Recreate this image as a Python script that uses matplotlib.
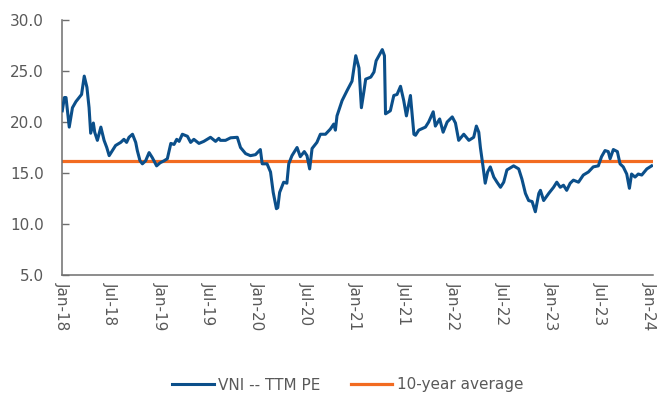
import numpy as np
import matplotlib.pyplot as plt
import matplotlib.dates as mdates
import pandas as pd

# VNI trailing PE
dates = [
    "2018-01-02", "2018-01-10", "2018-01-16", "2018-01-28", "2018-02-09", "2018-02-22",
    "2018-03-06", "2018-03-15", "2018-03-25", "2018-04-04", "2018-04-12", "2018-04-18",
    "2018-04-28", "2018-05-03", "2018-05-13", "2018-05-26", "2018-06-07", "2018-06-17",
    "2018-06-26", "2018-07-08", "2018-07-20", "2018-08-08", "2018-08-20", "2018-08-30",
    "2018-09-08", "2018-09-21", "2018-10-03", "2018-10-09", "2018-10-19", "2018-10-28",
    "2018-11-09", "2018-11-22", "2018-12-04", "2018-12-20", "2019-01-02", "2019-01-17",
    "2019-01-29", "2019-02-11", "2019-02-23", "2019-03-05", "2019-03-14", "2019-03-26",
    "2019-04-14", "2019-04-26", "2019-05-08", "2019-05-27", "2019-06-14", "2019-07-09",
    "2019-07-28", "2019-08-09", "2019-08-15", "2019-09-03", "2019-09-22", "2019-10-17",
    "2019-10-29", "2019-11-17", "2019-12-05", "2019-12-24", "2020-01-11", "2020-01-18",
    "2020-02-05", "2020-02-18", "2020-02-28", "2020-03-11", "2020-03-16", "2020-03-23",
    "2020-04-07", "2020-04-19", "2020-04-26", "2020-05-08", "2020-05-27", "2020-06-08",
    "2020-06-23", "2020-07-03", "2020-07-13", "2020-07-22", "2020-08-09", "2020-08-22",
    "2020-09-10", "2020-09-28", "2020-10-11", "2020-10-17", "2020-10-23", "2020-11-11",
    "2020-11-30", "2020-12-18", "2021-01-01", "2021-01-13", "2021-01-22", "2021-02-01",
    "2021-02-07", "2021-02-26", "2021-03-10", "2021-03-18", "2021-04-10", "2021-04-18",
    "2021-04-22", "2021-05-10", "2021-05-23", "2021-06-04", "2021-06-17", "2021-06-29",
    "2021-07-09", "2021-07-24", "2021-08-06", "2021-08-12", "2021-08-24", "2021-09-18",
    "2021-09-30", "2021-10-17", "2021-10-25", "2021-11-10", "2021-11-23", "2021-12-08",
    "2021-12-27", "2022-01-08", "2022-01-20", "2022-02-08", "2022-02-27", "2022-03-17",
    "2022-03-27", "2022-04-05", "2022-04-11", "2022-04-21", "2022-04-29", "2022-05-08",
    "2022-05-18", "2022-05-31", "2022-06-12", "2022-06-25", "2022-07-07", "2022-07-19",
    "2022-08-13", "2022-09-01", "2022-09-13", "2022-09-26", "2022-10-08", "2022-10-21",
    "2022-11-02", "2022-11-15", "2022-11-21", "2022-12-03", "2022-12-22", "2023-01-09",
    "2023-01-21", "2023-02-03", "2023-02-15", "2023-02-27", "2023-03-12", "2023-03-24",
    "2023-04-12", "2023-04-30", "2023-05-19", "2023-06-06", "2023-06-25", "2023-07-07",
    "2023-07-20", "2023-08-01", "2023-08-08", "2023-08-20", "2023-09-04", "2023-09-14",
    "2023-09-26", "2023-10-09", "2023-10-19", "2023-10-27", "2023-11-09", "2023-11-21",
    "2023-12-04", "2023-12-23", "2024-01-10",
]
pe_values = [
    21.1, 22.4, 22.4, 19.5, 21.4, 22.0,
    22.4, 22.7, 24.5, 23.4, 21.4, 18.9,
    19.9, 19.0, 18.2, 19.5, 18.2, 17.5,
    16.7, 17.2, 17.7, 18.0, 18.3, 18.0,
    18.5, 18.8, 18.0, 17.2, 16.2, 15.9,
    16.2, 17.0, 16.5, 15.7, 16.0, 16.2,
    16.4, 17.9, 17.8, 18.3, 18.1, 18.8,
    18.6, 18.0, 18.3, 17.9, 18.1, 18.5,
    18.1, 18.4, 18.2, 18.2, 18.45, 18.5,
    17.5, 16.9, 16.7, 16.8, 17.3, 15.9,
    15.9, 15.1, 13.1, 11.5, 11.6, 13.1,
    14.1, 14.0, 15.9, 16.7, 17.5, 16.6,
    17.1, 16.7, 15.4, 17.4, 18.0, 18.8,
    18.8, 19.3, 19.8, 19.2, 20.6, 22.1,
    23.1, 24.0, 26.5, 25.3, 21.4, 23.1,
    24.2, 24.4, 24.9, 26.0, 27.1, 26.5,
    20.8, 21.1, 22.6, 22.7, 23.5, 22.1,
    20.6, 22.6, 18.8, 18.7, 19.2, 19.5,
    20.0, 21.0, 19.6, 20.3, 19.0, 20.0,
    20.5, 19.9, 18.2, 18.8, 18.2, 18.5,
    19.6, 19.0, 17.5, 15.6, 14.0, 15.1,
    15.6, 14.6, 14.1, 13.6, 14.1, 15.3,
    15.7, 15.4, 14.4, 13.0, 12.3, 12.2,
    11.2, 13.0, 13.3, 12.3, 13.0, 13.6,
    14.1, 13.6, 13.8, 13.3, 14.0, 14.3,
    14.1, 14.8, 15.1, 15.6, 15.7, 16.6,
    17.2, 17.1, 16.4, 17.3, 17.1, 15.9,
    15.6, 14.9, 13.5, 14.9, 14.6, 14.9,
    14.8, 15.4, 15.7,
]
avg_10y = 16.15

y_ticks = [5, 10, 15, 20, 25, 30]
x_start = "2018-01-01"
x_end = "2024-01-15"

dates = pd.to_datetime(dates)

plt.rcParams['font.family'] = ['DejaVu Sans']
fig = plt.figure(figsize=(6.57, 4.05), dpi=100)
ax = fig.add_axes([62 / 657, 1 - 275 / 405, (653 - 62) / 657, (275 - 20) / 405])

ax.plot(dates, pe_values, color='#0B4F8A', lw=2.2, label='VNI -- TTM PE', zorder=3)
ax.axhline(avg_10y, color='#F26B21', lw=2.3, label='10-year average', zorder=2)

ax.set_ylim(5, 30)
ax.set_yticks(y_ticks)
ax.yaxis.set_major_formatter(plt.FormatStrFormatter('%.1f'))
ax.set_xlim(pd.Timestamp(x_start), pd.Timestamp(x_end))
ax.xaxis.set_major_locator(mdates.MonthLocator(bymonth=[1, 7]))
ax.xaxis.set_major_formatter(mdates.DateFormatter('%b-%y'))

gray = '#6E6E6E'
for side in ['top', 'right']:
    ax.spines[side].set_visible(False)
for side in ['left', 'bottom']:
    ax.spines[side].set_color(gray)
    ax.spines[side].set_linewidth(1.1)

ax.tick_params(axis='y', direction='in', length=5, width=1, color=gray,
               labelcolor='#595959', labelsize=11, pad=13)
ax.tick_params(axis='x', length=0, labelcolor='#595959', labelsize=11,
               labelrotation=-90, pad=5)

ax.legend(loc='center', bbox_to_anchor=(348 / 657, 20 / 405), bbox_transform=fig.transFigure,
          ncol=2, frameon=False, fontsize=11, handlelength=2.7, handletextpad=0.3,
          columnspacing=2.0, labelcolor='#595959')

plt.savefig('out.png', dpi=100)
